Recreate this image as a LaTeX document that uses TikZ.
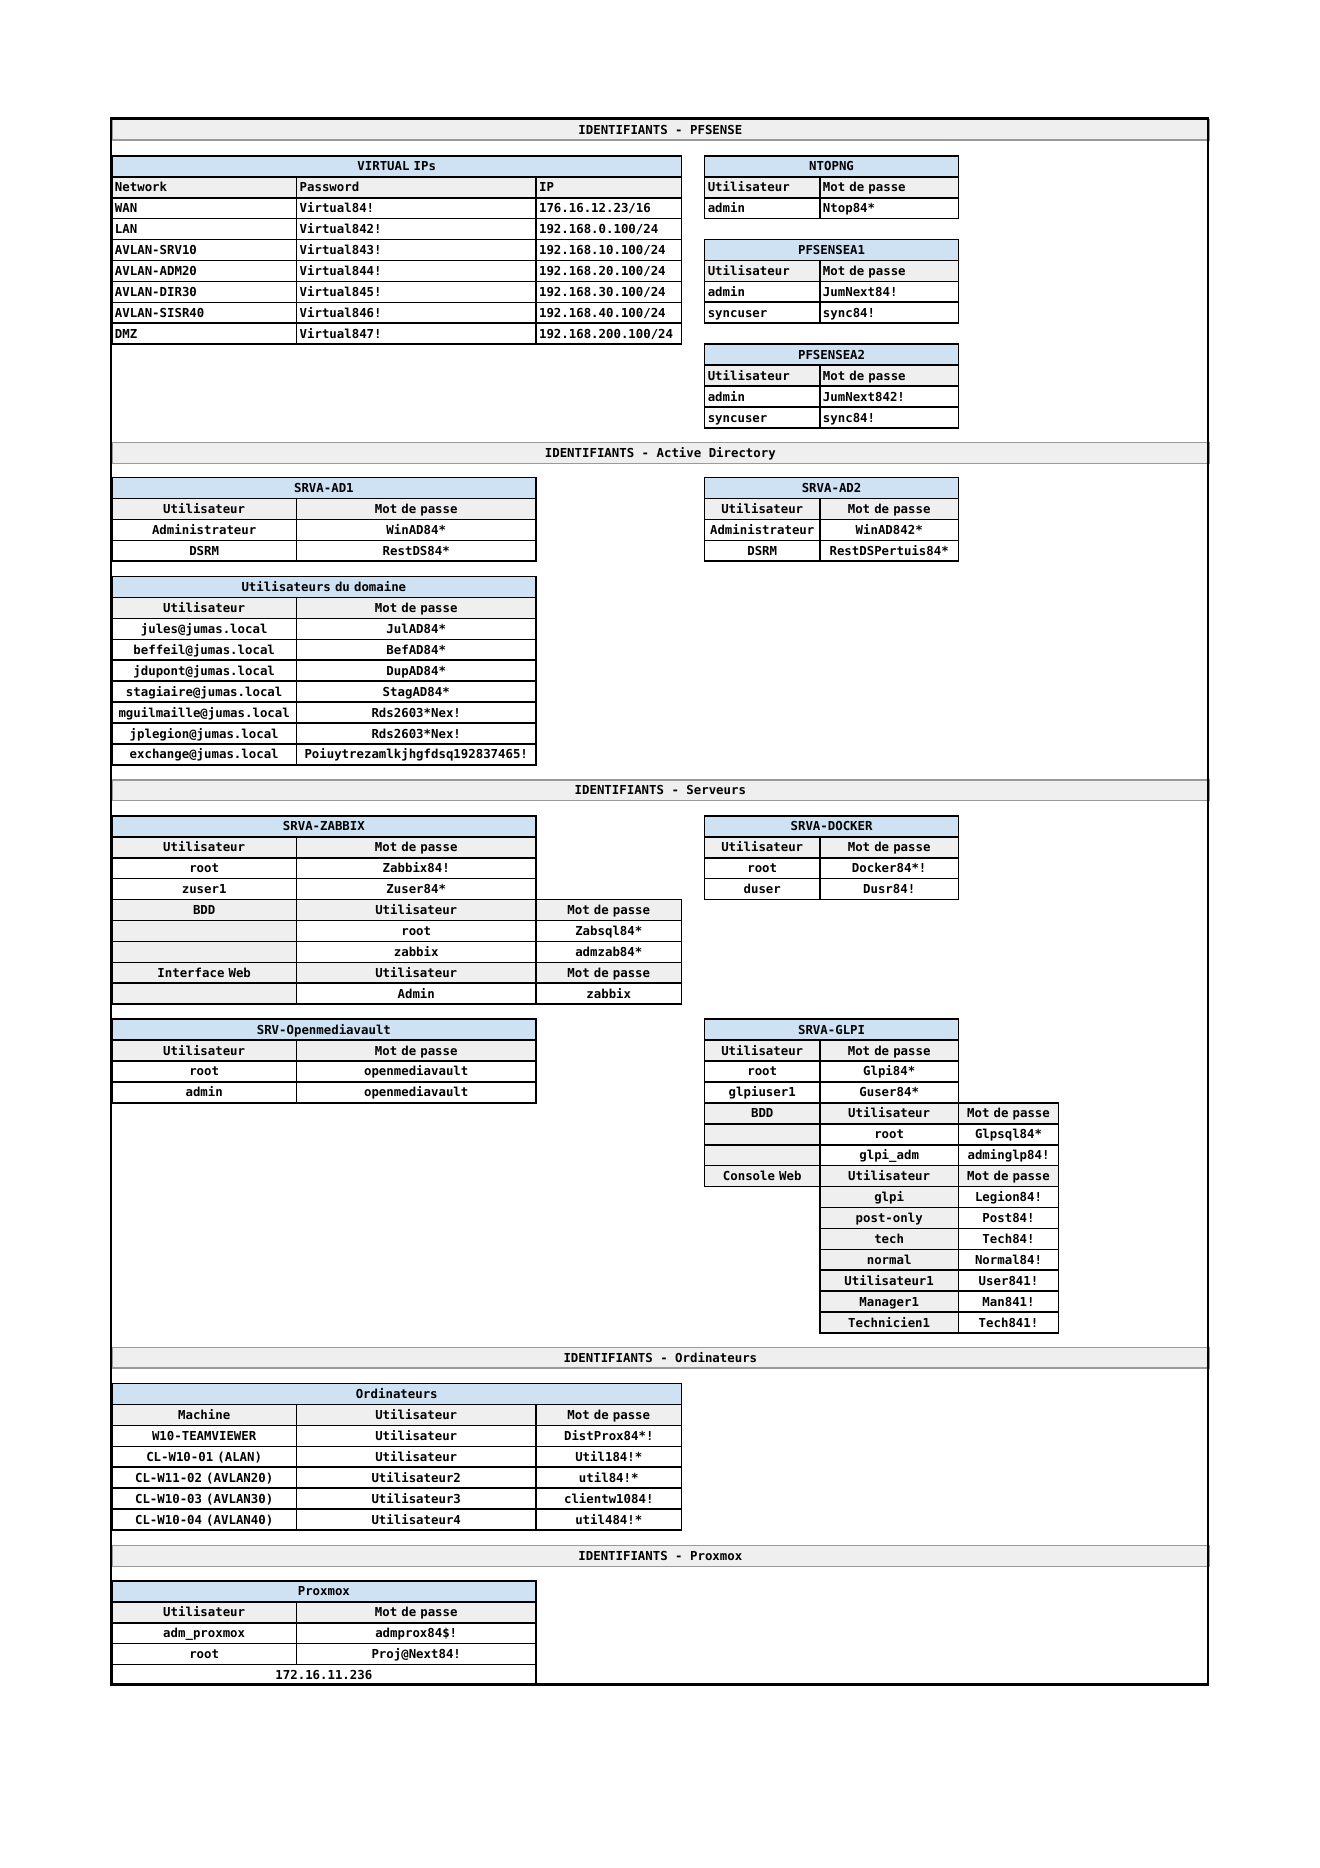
\documentclass[tikz,border=0pt]{standalone}
\usepackage{fontspec}
\newfontfamily\cellfont{DejaVu Sans Mono}
\definecolor{headblue}{HTML}{CFE2F3}
\definecolor{labelgrey}{HTML}{EFEFEF}
\definecolor{barline}{HTML}{9A9A9A}
\tikzset{
x=0.15909mm, y=-0.15909mm, % one unit is one pixel of the page, y going down
cell/.style={rectangle, draw=black, fill=white, line width=0.75pt, anchor=north west,
  inner xsep=0.5mm, inner ysep=0pt, minimum height=3.33mm, minimum width={#1*0.15909mm},
  text width={#1*0.15909mm-1mm}, align=center, text height=4.1pt, text depth=0pt,
  font=\cellfont\bfseries\fontsize{5.6}{6.5}\selectfont}, % centred cell of width #1
lcell/.style={cell=#1, align=left}, % left aligned cell
head/.style={fill=headblue},
lbl/.style={fill=labelgrey},
val/.style={fill=white},
bar/.style={rectangle, fill=labelgrey, draw=barline, line width=0.75pt, anchor=north west,
  inner sep=0pt, minimum width=174.52mm, minimum height=3.31mm, text height=4.1pt, text depth=0pt,
  font=\cellfont\bfseries\fontsize{5.6}{6.5}\selectfont},
frame/.style={draw=black, line width=1.2pt},
}

\begin{document}
\begin{tikzpicture}
\useasboundingbox (0,0) rectangle (1320,1868);
\def\rh{20.93}
\def\xa{111} \def\xb{295.7} \def\xc{535.1}
\def\xe{703.8} \def\xf{819} \def\xg{957.7}
\def\wa{184.7} \def\wb{239.4} \def\wc{145.7}
\def\we{115.2} \def\wf{138.7} \def\wg{100}

% PFSENSE
\node[bar] (bar-pf) at (\xa,118.5) {IDENTIFIANTS - PFSENSE};
\node[cell=569.8, head] (vip) at (\xa,155) {VIRTUAL IPs};
\node[lcell=\wa, lbl] (vip-1-a) at (\xa,{155+\rh}) {Network};
\node[lcell=\wb, lbl] (vip-1-b) at (\xb,{155+\rh}) {Password};
\node[lcell=\wc, lbl] (vip-1-c) at (\xc,{155+\rh}) {IP};
\foreach \n/\p/\ip [count=\i from 2] in {WAN/Virtual84!/{176.16.12.23/16}, LAN/Virtual842!/{192.168.0.100/24},
  AVLAN-SRV10/Virtual843!/{192.168.10.100/24}, AVLAN-ADM20/Virtual844!/{192.168.20.100/24},
  AVLAN-DIR30/Virtual845!/{192.168.30.100/24}, AVLAN-SISR40/Virtual846!/{192.168.40.100/24},
  DMZ/Virtual847!/{192.168.200.100/24}}{
  \node[lcell=\wa] (vip-\i-a) at (\xa,{155+\i*\rh}) {\n};
  \node[lcell=\wb] (vip-\i-b) at (\xb,{155+\i*\rh}) {\p};
  \node[lcell=\wc] (vip-\i-c) at (\xc,{155+\i*\rh}) {\ip};
}
\node[cell=253.9, head] (ntop) at (\xe,155) {NTOPNG};
\node[lcell=\we, lbl] (ntop-1-a) at (\xe,{155+\rh}) {Utilisateur};
\node[lcell=\wf, lbl] (ntop-1-b) at (\xf,{155+\rh}) {Mot de passe};
\node[lcell=\we] (ntop-2-a) at (\xe,{155+2*\rh}) {admin};
\node[lcell=\wf] (ntop-2-b) at (\xf,{155+2*\rh}) {Ntop84*};
\foreach \t/\top/\name/\pw in {pfa1/238.7/PFSENSEA1/JumNext84!, pfa2/343.4/PFSENSEA2/JumNext842!}{
  \node[cell=253.9, head] (\t) at (\xe,\top) {\name};
  \node[lcell=\we, lbl] (\t-1-a) at (\xe,{\top+\rh}) {Utilisateur};
  \node[lcell=\wf, lbl] (\t-1-b) at (\xf,{\top+\rh}) {Mot de passe};
  \node[lcell=\we] (\t-2-a) at (\xe,{\top+2*\rh}) {admin};
  \node[lcell=\wf] (\t-2-b) at (\xf,{\top+2*\rh}) {\pw};
  \node[lcell=\we] (\t-3-a) at (\xe,{\top+3*\rh}) {syncuser};
  \node[lcell=\wf] (\t-3-b) at (\xf,{\top+3*\rh}) {sync84!};
}

% Active Directory
\node[bar] (bar-ad) at (\xa,441.7) {IDENTIFIANTS - Active Directory};
\node[cell=424.1, head] (ad1) at (\xa,476.7) {SRVA-AD1};
\node[cell=\wa, lbl] (ad1-1-a) at (\xa,{476.7+\rh}) {Utilisateur};
\node[cell=\wb, lbl] (ad1-1-b) at (\xb,{476.7+\rh}) {Mot de passe};
\foreach \u/\p [count=\i from 2] in {Administrateur/WinAD84*, DSRM/RestDS84*}{
  \node[cell=\wa] (ad1-\i-a) at (\xa,{476.7+\i*\rh}) {\u};
  \node[cell=\wb] (ad1-\i-b) at (\xb,{476.7+\i*\rh}) {\p};
}
\node[cell=253.9, head] (ad2) at (\xe,476.7) {SRVA-AD2};
\node[cell=\we, lbl] (ad2-1-a) at (\xe,{476.7+\rh}) {Utilisateur};
\node[cell=\wf, lbl] (ad2-1-b) at (\xf,{476.7+\rh}) {Mot de passe};
\foreach \u/\p [count=\i from 2] in {Administrateur/WinAD842*, DSRM/RestDSPertuis84*}{
  \node[cell=\we] (ad2-\i-a) at (\xe,{476.7+\i*\rh}) {\u};
  \node[cell=\wf] (ad2-\i-b) at (\xf,{476.7+\i*\rh}) {\p};
}
\node[cell=424.1, head] (dom) at (\xa,575.7) {Utilisateurs du domaine};
\node[cell=\wa, lbl] (dom-1-a) at (\xa,{575.7+\rh}) {Utilisateur};
\node[cell=\wb, lbl] (dom-1-b) at (\xb,{575.7+\rh}) {Mot de passe};
\foreach \u/\p [count=\i from 2] in {jules@jumas.local/JulAD84*, beffeil@jumas.local/BefAD84*,
  jdupont@jumas.local/DupAD84*, stagiaire@jumas.local/StagAD84*, mguilmaille@jumas.local/Rds2603*Nex!,
  jplegion@jumas.local/Rds2603*Nex!, exchange@jumas.local/Poiuytrezamlkjhgfdsq192837465!}{
  \node[cell=\wa] (dom-\i-a) at (\xa,{575.7+\i*\rh}) {\u};
  \node[cell=\wb] (dom-\i-b) at (\xb,{575.7+\i*\rh}) {\p};
}

% Serveurs
\node[bar] (bar-srv) at (\xa,779) {IDENTIFIANTS - Serveurs};
\node[cell=424.1, head] (zab) at (\xa,815) {SRVA-ZABBIX};
\foreach \k/\s/\u/\p in {1/lbl/Utilisateur/{Mot de passe}, 2/val/root/Zabbix84!, 3/val/zuser1/Zuser84*}{
  \node[cell=\wa, \s] (zab-\k-a) at (\xa,{815+\k*\rh}) {\u};
  \node[cell=\wb, \s] (zab-\k-b) at (\xb,{815+\k*\rh}) {\p};
}
\foreach \k/\s/\a/\u/\p in {4/lbl/BDD/Utilisateur/{Mot de passe}, 5/val/{}/root/Zabsql84*,
  6/val/{}/zabbix/admzab84*, 7/lbl/Interface Web/Utilisateur/{Mot de passe}, 8/val/{}/Admin/zabbix}{
  \node[cell=\wa, lbl] (zab-\k-a) at (\xa,{815+\k*\rh}) {\a};
  \node[cell=\wb, \s] (zab-\k-b) at (\xb,{815+\k*\rh}) {\u};
  \node[cell=\wc, \s] (zab-\k-c) at (\xc,{815+\k*\rh}) {\p};
}
\node[cell=253.9, head] (dock) at (\xe,815) {SRVA-DOCKER};
\foreach \k/\s/\u/\p in {1/lbl/Utilisateur/{Mot de passe}, 2/val/root/Docker84*!, 3/val/duser/Dusr84!}{
  \node[cell=\we, \s] (dock-\k-a) at (\xe,{815+\k*\rh}) {\u};
  \node[cell=\wf, \s] (dock-\k-b) at (\xf,{815+\k*\rh}) {\p};
}
\node[cell=424.1, head] (omv) at (\xa,1018.3) {SRV-Openmediavault};
\foreach \k/\s/\u/\p in {1/lbl/Utilisateur/{Mot de passe}, 2/val/root/openmediavault, 3/val/admin/openmediavault}{
  \node[cell=\wa, \s] (omv-\k-a) at (\xa,{1018.3+\k*\rh}) {\u};
  \node[cell=\wb, \s] (omv-\k-b) at (\xb,{1018.3+\k*\rh}) {\p};
}
\node[cell=253.9, head] (glpi) at (\xe,1018.3) {SRVA-GLPI};
\foreach \k/\s/\u/\p in {1/lbl/Utilisateur/{Mot de passe}, 2/val/root/Glpi84*, 3/val/glpiuser1/Guser84*}{
  \node[cell=\we, \s] (glpi-\k-a) at (\xe,{1018.3+\k*\rh}) {\u};
  \node[cell=\wf, \s] (glpi-\k-b) at (\xf,{1018.3+\k*\rh}) {\p};
}
\foreach \k/\s/\a/\u/\p in {4/lbl/BDD/Utilisateur/{Mot de passe}, 5/val/{}/root/Glpsql84*,
  6/val/{}/glpi\_adm/adminglp84!, 7/lbl/Console Web/Utilisateur/{Mot de passe}}{
  \node[cell=\we, lbl] (glpi-\k-a) at (\xe,{1018.3+\k*\rh}) {\a};
  \node[cell=\wf, \s] (glpi-\k-b) at (\xf,{1018.3+\k*\rh}) {\u};
  \node[cell=\wg, \s] (glpi-\k-c) at (\xg,{1018.3+\k*\rh}) {\p};
}
\foreach \u/\p [count=\k from 8] in {glpi/Legion84!, post-only/Post84!, tech/Tech84!, normal/Normal84!,
  Utilisateur1/User841!, Manager1/Man841!, Technicien1/Tech841!}{
  \node[cell=\wf, lbl] (glpi-\k-b) at (\xf,{1018.3+\k*\rh}) {\u};
  \node[cell=\wg] (glpi-\k-c) at (\xg,{1018.3+\k*\rh}) {\p};
}

% Ordinateurs
\node[bar] (bar-pc) at (\xa,1346.5) {IDENTIFIANTS - Ordinateurs};
\node[cell=569.8, head] (pc) at (\xa,1382.7) {Ordinateurs};
\foreach \k/\s/\m/\u/\p in {1/lbl/Machine/Utilisateur/{Mot de passe}, 2/val/W10-TEAMVIEWER/Utilisateur/DistProx84*!,
  3/val/CL-W10-01 (ALAN)/Utilisateur/Util184!*, 4/val/CL-W11-02 (AVLAN20)/Utilisateur2/util84!*,
  5/val/CL-W10-03 (AVLAN30)/Utilisateur3/clientw1084!, 6/val/CL-W10-04 (AVLAN40)/Utilisateur4/util484!*}{
  \node[cell=\wa, \s] (pc-\k-a) at (\xa,{1382.7+\k*\rh}) {\m};
  \node[cell=\wb, \s] (pc-\k-b) at (\xb,{1382.7+\k*\rh}) {\u};
  \node[cell=\wc, \s] (pc-\k-c) at (\xc,{1382.7+\k*\rh}) {\p};
}

% Proxmox
\node[bar] (bar-px) at (\xa,1544.8) {IDENTIFIANTS - Proxmox};
\node[cell=424.1, head] (px) at (\xa,1580) {Proxmox};
\foreach \k/\s/\u/\p in {1/lbl/Utilisateur/{Mot de passe}, 2/val/adm\_proxmox/admprox84\$!, 3/val/root/Proj@Next84!}{
  \node[cell=\wa, \s] (px-\k-a) at (\xa,{1580+\k*\rh}) {\u};
  \node[cell=\wb, \s] (px-\k-b) at (\xb,{1580+\k*\rh}) {\p};
}
\node[cell=424.1] (px-ip) at (\xa,{1580+4*\rh}) {172.16.11.236};

\draw[frame] (\xa,118.5) rectangle (1208,1684.5);
\end{tikzpicture}
\end{document}
